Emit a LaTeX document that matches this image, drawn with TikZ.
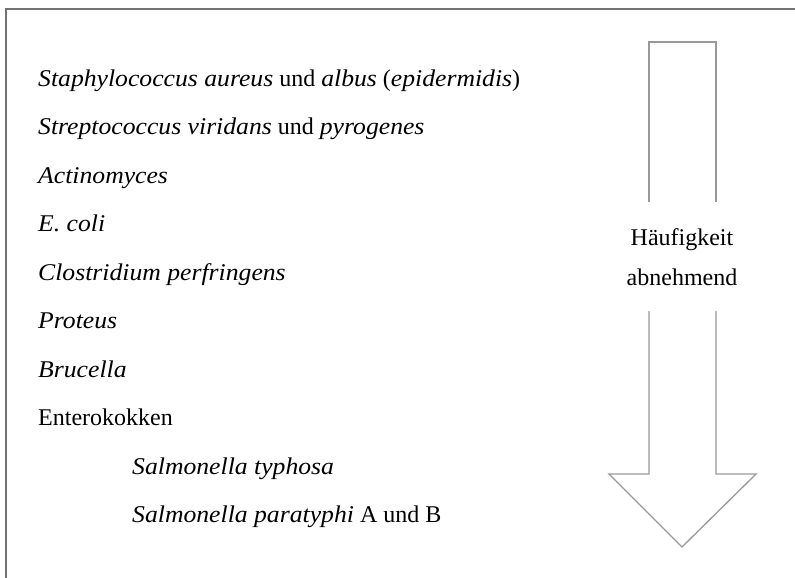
\documentclass[tikz,border=0pt]{standalone}
\usepackage{fontspec}
\setmainfont{Liberation Serif}[ItalicFeatures={FakeStretch=1.07}]
\begin{document}
\begin{tikzpicture}[x=1pt,y=-1pt,
  item/.style={anchor=base west,inner sep=0pt,font=\fontsize{24}{28}\selectfont},
  lbl/.style={anchor=base,inner sep=0pt,font=\fontsize{24}{28}\selectfont},
  frame/.style={draw=black!55,line width=1.6pt},
  arr/.style={draw=black!40,line width=1.3pt,line join=miter}]
\useasboundingbox (0,0) rectangle (795,578);
% frame (only top and left visible)
\draw[frame] (6,578) -- (6,9) -- (795,9);
% list
\node[item] (s1) at (38,86) {\textit{Staphylococcus aureus} und \textit{albus} (\textit{epidermidis})};
\node[item] (s2) at (38,134.5) {\textit{Streptococcus viridans} und \textit{pyrogenes}};
\node[item] (s3) at (38,183) {\textit{Actinomyces}};
\node[item] (s4) at (38,231.5) {\textit{E. coli}};
\node[item] (s5) at (38,280) {\textit{Clostridium perfringens}};
\node[item] (s6) at (38,328.5) {\textit{Proteus}};
\node[item] (s7) at (38,377) {\textit{Brucella}};
\node[item] (s8) at (38,425.5) {Enterokokken};
\node[item] (s9) at (132,474) {\textit{Salmonella typhosa}};
\node[item] (s10) at (132,522.5) {\textit{Salmonella paratyphi} A und B};
% arrow
\draw[arr] (649,202) -- (649,42) -- (716,42) -- (716,202);
\draw[arr] (649,311) -- (649,474) -- (609,474) -- (682,547) -- (756,474) -- (716,474) -- (716,311);
\node[lbl] (h1) at (682,245) {Häufigkeit};
\node[lbl] (h2) at (682,285) {abnehmend};
\end{tikzpicture}
\end{document}
